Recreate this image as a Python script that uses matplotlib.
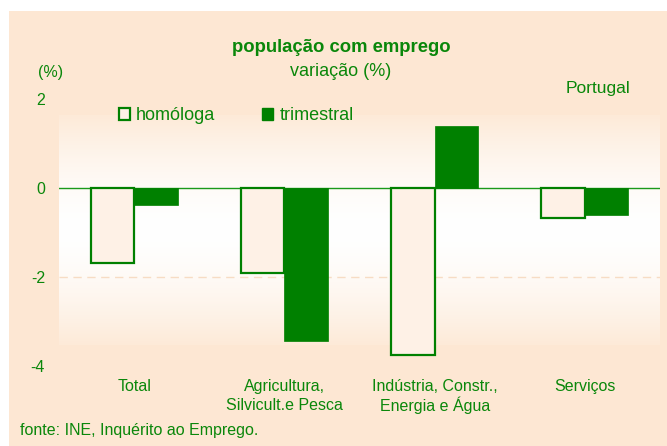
import numpy as np
import matplotlib
matplotlib.use("Agg")
import matplotlib.pyplot as plt
import matplotlib.transforms as mtransforms
from matplotlib.patches import Rectangle, Patch

categories = ["Total", "Agricultura,\nSilvicult.e Pesca",
              "Indústria, Constr.,\nEnergia e Água", "Serviços"]
homologa = [-1.67, -1.90, -3.75, -0.66]
trimestral = [-0.37, -3.44, 1.40, -0.59]
yticks = [2, 0, -2, -4]

W, H = 667, 446
GREEN = "#008000"
TXT = "#0a870a"
PEACH = "#fde7d3"

plt.rcParams['font.family'] = ['Liberation Sans', 'DejaVu Sans']

fig = plt.figure(figsize=(W / 100, H / 100), dpi=100, facecolor="white")

def fx(px):
    return px / W

def fy(py):
    return 1 - py / H

# outer peach panel
fig.patches.append(Rectangle((fx(9), 0), fx(W - 9), 1 - 11 / H, transform=fig.transFigure,
                             facecolor=PEACH, edgecolor="none", zorder=-10))

ax = fig.add_axes([fx(59), fy(366.3), fx(660) - fx(59), fy(99.3) - fy(366.3)])
ax.set_facecolor("none")
ax.set_xlim(-0.5, 3.5)
ax.set_ylim(-4, 2)

# gradient plot area background
ytop, ybot = 1.647, -3.52
t = np.linspace(0, 1, 256)
f = np.clip(np.abs(t - 0.5) * 2, 0, 1) ** 1.6
c0 = np.array([1.0, 1.0, 1.0])
c1 = np.array([253, 234, 216]) / 255
grad = c0[None, :] * (1 - f[:, None]) + c1[None, :] * f[:, None]
ax.imshow(grad[:, None, :], extent=(-0.5, 3.5, ybot, ytop), aspect="auto",
          zorder=0, interpolation="bilinear")

x = np.arange(len(categories))
bw = 0.29
ax.bar(x - bw / 2, homologa, width=bw, facecolor="#fef1e6", edgecolor=GREEN,
       linewidth=1.6, zorder=3, label="homóloga")
ax.bar(x + bw / 2, trimestral, width=bw, facecolor=GREEN, edgecolor=GREEN,
       linewidth=0.5, zorder=3, label="trimestral")

ax.axhline(0, color="#1a9a1a", linewidth=1.0, zorder=2)
ax.axhline(-2, color="#f7dcc4", linewidth=1.0, dashes=(6, 4), zorder=1)

for s in ax.spines.values():
    s.set_visible(False)
ax.set_yticks(yticks)
ax.set_yticklabels([str(v) for v in yticks])
ax.tick_params(axis="y", length=0, pad=10, labelsize=11.5, labelcolor=TXT)

# category labels: first line as tick labels, second line as separate text
first = [c.split("\n")[0] for c in categories]
second = [c.split("\n")[1] if "\n" in c else "" for c in categories]
ax.set_xticks(x)
ax.set_xticklabels(first)
ax.tick_params(axis="x", length=0, pad=9, labelsize=11.5, labelcolor=TXT)
trans = mtransforms.blended_transform_factory(ax.transData, fig.transFigure)
for xi, s2 in zip(x, second):
    if s2:
        ax.text(xi, fy(405), s2, transform=trans, ha="center", va="center",
                fontsize=11.5, color=TXT)

handles = [Patch(facecolor="#fef1e6", edgecolor=GREEN, linewidth=1.6, label="homóloga"),
           Patch(facecolor=GREEN, edgecolor=GREEN, label="trimestral")]
leg = fig.legend(handles=handles, loc="center left", bbox_to_anchor=(fx(119), fy(116)),
                 ncol=2, frameon=False, fontsize=13, handlelength=0.6, handleheight=0.6,
                 handletextpad=0.35, columnspacing=2.6, borderpad=0, borderaxespad=0)
for tx in leg.get_texts():
    tx.set_color(TXT)

fig.text(fx(341), fy(47), "população com emprego", ha="center", va="center",
         fontsize=13.3, fontweight="bold", color=TXT)
fig.text(fx(341), fy(72), "variação (%)", ha="center", va="center", fontsize=13, color=TXT)
fig.text(fx(51), fy(72), "(%)", ha="center", va="center", fontsize=11.5, color=TXT)
fig.text(fx(598), fy(88), "Portugal", ha="center", va="center", fontsize=12.5, color=TXT)
fig.text(fx(20), fy(431), "fonte: INE, Inquérito ao Emprego.", ha="left", va="center",
         fontsize=11.5, color=TXT)

fig.savefig("out.png", dpi=100, facecolor="white")
